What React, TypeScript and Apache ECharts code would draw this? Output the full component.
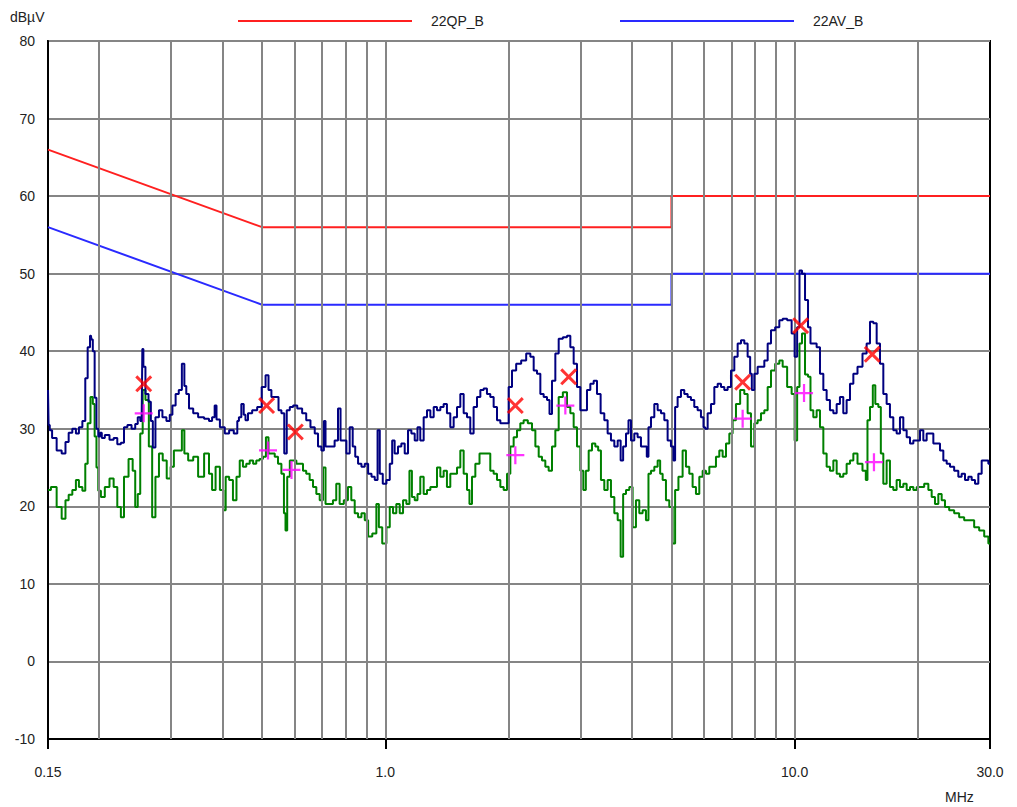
import React, { useEffect, useRef } from "react";
import * as echarts from "echarts";

// Frequencies (MHz) of the vertical grid lines
const gridFreqs = [0.2, 0.3, 0.4, 0.5, 0.6, 0.7, 0.8, 0.9, 1, 2, 3, 4, 5, 6, 7, 8, 9, 10, 20];

// Limit lines [MHz, dBµV]
const qpLimit: [number, number][] = [[0.15, 66], [0.5, 56], [5, 56], [5, 60], [30, 60]];
const avLimit: [number, number][] = [[0.15, 56], [0.5, 46], [5, 46], [5, 50], [30, 50]];

// Peak trace (navy) [MHz, dBµV]
const peakTrace: [number, number][] = [
  [0.150, 35.0], [0.151, 30.5], [0.152, 29.8], [0.155, 28.8], [0.160, 27.2], [0.164, 26.8], [0.167, 28.3], [0.170, 29.5],
  [0.174, 30.0], [0.177, 29.4], [0.180, 30.2], [0.184, 31.0], [0.186, 36.5], [0.189, 40.5], [0.191, 42.0], [0.192, 41.5],
  [0.194, 40.0], [0.196, 34.0], [0.198, 30.0], [0.200, 29.0], [0.202, 29.5], [0.204, 28.8], [0.209, 29.2], [0.215, 28.6],
  [0.219, 28.8], [0.224, 28.0], [0.228, 28.2], [0.232, 30.2], [0.237, 30.5], [0.243, 30.0], [0.247, 30.6], [0.250, 31.5],
  [0.254, 31.0], [0.256, 40.3], [0.257, 38.0], [0.262, 34.5], [0.266, 33.5], [0.269, 31.0], [0.272, 27.6], [0.277, 31.5],
  [0.283, 32.4], [0.288, 31.5], [0.296, 31.0], [0.299, 31.8], [0.305, 33.0], [0.310, 34.5], [0.316, 35.0], [0.321, 38.4],
  [0.325, 35.5], [0.328, 34.5], [0.335, 32.6], [0.344, 32.0], [0.354, 31.5], [0.368, 31.3], [0.374, 31.0], [0.381, 31.5],
  [0.385, 33.0], [0.389, 31.2], [0.400, 30.2], [0.411, 29.4],
  [0.420, 29.8], [0.433, 29.4], [0.437, 31.0], [0.441, 31.5], [0.449, 33.2], [0.453, 31.8], [0.458, 31.1], [0.466, 32.0],
  [0.480, 32.4], [0.493, 32.8], [0.505, 35.4], [0.515, 36.9], [0.522, 35.0], [0.532, 34.1], [0.545, 34.1], [0.552, 32.4],
  [0.563, 32.0], [0.570, 26.8], [0.579, 32.4], [0.590, 32.8], [0.601, 33.0], [0.618, 32.6], [0.635, 32.0], [0.647, 31.1],
  [0.666, 30.2], [0.679, 29.4], [0.691, 27.7], [0.705, 27.2], [0.711, 31.0], [0.718, 27.7], [0.745, 27.7], [0.759, 28.5],
  [0.774, 32.6], [0.781, 28.5], [0.796, 28.5], [0.811, 26.8], [0.826, 30.2], [0.839, 27.7], [0.850, 26.4], [0.866, 25.5],
  [0.883, 25.1], [0.899, 25.5], [0.917, 24.2], [0.934, 23.8], [0.951, 23.4], [0.964, 29.8], [0.975, 24.2], [0.997, 22.9],
  [1.016, 23.4], [1.035, 25.5], [1.044, 28.5], [1.064, 26.8], [1.084, 27.7], [1.105, 28.1], [1.126, 26.8], [1.147, 29.8],
  [1.169, 29.4], [1.191, 28.5],
  [1.206, 30.2], [1.229, 28.5], [1.253, 31.5], [1.276, 32.4], [1.301, 31.5], [1.325, 32.8], [1.350, 32.4], [1.376, 32.8],
  [1.401, 33.2], [1.428, 32.0], [1.455, 30.2], [1.483, 31.5], [1.511, 32.8], [1.539, 34.5], [1.569, 32.0], [1.598, 31.5],
  [1.628, 29.4], [1.659, 32.8], [1.691, 34.1], [1.723, 35.0], [1.755, 35.2], [1.788, 34.5], [1.822, 34.1], [1.857, 32.8],
  [1.892, 31.1], [1.928, 30.7], [1.983, 30.7], [2.020, 35.4], [2.059, 37.5], [2.117, 38.4], [2.178, 38.8], [2.240, 39.7],
  [2.283, 39.3], [2.325, 37.5], [2.370, 37.1], [2.414, 34.5], [2.460, 34.1], [2.507, 33.7], [2.530, 31.9], [2.578, 36.2],
  [2.627, 39.7], [2.677, 41.6], [2.753, 41.8], [2.805, 42.0], [2.858, 40.5], [2.912, 38.4], [2.967, 35.4], [3.023, 32.4],
  [3.080, 32.4], [3.139, 35.0], [3.198, 35.8], [3.259, 36.2], [3.320, 34.5],
  [3.395, 32.0], [3.460, 31.1], [3.525, 29.4], [3.592, 28.5], [3.661, 27.7], [3.730, 28.5], [3.785, 25.9], [3.836, 27.7],
  [3.909, 29.4], [3.945, 31.1], [4.020, 28.5], [4.095, 29.4], [4.173, 28.9], [4.252, 27.7], [4.333, 27.7], [4.373, 26.4],
  [4.415, 30.2], [4.498, 31.5], [4.584, 33.2], [4.670, 32.4], [4.759, 32.0], [4.848, 31.1], [4.940, 28.5], [5.033, 27.7],
  [5.081, 25.9], [5.128, 32.8], [5.226, 34.1], [5.324, 35.0], [5.426, 34.5], [5.528, 34.1], [5.632, 33.7], [5.739, 32.8],
  [5.847, 32.4], [5.959, 31.5], [6.016, 30.2], [6.072, 30.0], [6.187, 32.0], [6.304, 33.2], [6.424, 35.4], [6.545, 35.8],
  [6.669, 35.4], [6.795, 35.0], [6.923, 35.4], [7.055, 37.5], [7.188, 39.3], [7.325, 41.0], [7.463, 41.4], [7.603, 41.0],
  [7.748, 39.3], [7.821, 37.1], [7.894, 35.0], [8.044, 37.1], [8.196, 38.0], [8.352, 38.0], [8.510, 38.8], [8.672, 41.0],
  [8.835, 42.7], [9.087, 43.1], [9.260, 44.0], [9.434, 44.2],
  [9.738, 44.0], [9.924, 42.3], [10.07, 39.3], [10.21, 43.1], [10.34, 50.4], [10.50, 50.0], [10.70, 46.6], [10.86, 43.1],
  [11.00, 41.0], [11.21, 41.0], [11.42, 40.5], [11.64, 37.1], [11.86, 35.0], [12.08, 33.7], [12.31, 32.4], [12.55, 32.0],
  [12.78, 33.2], [13.02, 34.1], [13.27, 32.0], [13.52, 33.7], [13.78, 35.8], [14.04, 37.1], [14.44, 38.0], [14.85, 39.7],
  [15.13, 41.0], [15.42, 43.8], [15.71, 43.6], [16.01, 41.0], [16.31, 38.4], [16.62, 34.5], [16.93, 33.2], [17.25, 31.5],
  [17.58, 29.8], [17.91, 29.4], [18.25, 31.5], [18.60, 29.8], [18.95, 28.9], [19.31, 28.1], [19.68, 28.5], [20.05, 28.5],
  [20.43, 29.8], [20.81, 28.5], [21.21, 29.4], [21.61, 29.4], [22.02, 28.1], [22.43, 28.1], [22.86, 27.2], [23.29, 25.9],
  [23.74, 25.5], [24.18, 25.1], [24.87, 24.6], [25.34, 23.8], [25.82, 24.2], [26.31, 23.4], [26.81, 23.8], [27.32, 23.4],
  [27.83, 22.9], [28.36, 24.2], [28.90, 25.9], [29.45, 25.9], [30.0, 25.5],
];

// Average trace (green) [MHz, dBµV]
const avgTrace: [number, number][] = [
  [0.150, 22.1], [0.155, 22.5], [0.160, 19.9], [0.164, 18.4], [0.167, 20.8], [0.170, 21.5], [0.174, 22.1], [0.177, 23.4],
  [0.180, 22.5], [0.184, 22.0], [0.186, 25.5], [0.189, 30.7], [0.192, 34.1], [0.194, 33.2], [0.196, 29.0], [0.198, 25.0],
  [0.200, 22.0], [0.204, 21.2], [0.209, 22.5], [0.215, 23.6], [0.219, 22.5], [0.224, 19.9], [0.228, 18.6], [0.232, 23.8],
  [0.240, 26.1], [0.243, 24.6], [0.247, 19.9], [0.250, 21.6], [0.254, 29.4], [0.257, 35.0], [0.262, 33.7], [0.267, 27.7],
  [0.272, 18.6], [0.277, 23.8], [0.283, 26.8], [0.289, 25.9], [0.296, 23.6], [0.302, 25.1], [0.307, 27.2], [0.316, 27.2],
  [0.321, 29.8], [0.325, 26.8], [0.335, 25.9], [0.344, 26.4], [0.354, 23.8], [0.368, 26.8], [0.374, 24.2], [0.381, 22.1],
  [0.389, 25.1], [0.400, 22.1], [0.404, 19.5], [0.411, 23.8],
  [0.420, 23.4], [0.429, 20.8], [0.437, 23.8], [0.445, 25.9], [0.453, 25.1], [0.462, 25.5], [0.471, 25.9], [0.480, 25.5],
  [0.488, 25.9], [0.498, 26.1], [0.507, 26.4], [0.515, 28.9], [0.522, 26.8], [0.532, 26.8], [0.542, 26.4], [0.552, 25.5],
  [0.563, 24.2], [0.568, 19.1], [0.573, 16.9], [0.579, 23.8], [0.590, 25.9], [0.601, 25.9], [0.612, 25.5], [0.624, 25.5],
  [0.635, 24.6], [0.647, 24.2], [0.660, 23.4], [0.672, 22.5], [0.685, 21.6], [0.698, 20.8], [0.711, 25.0], [0.718, 20.3],
  [0.738, 20.3], [0.752, 20.8], [0.766, 22.9], [0.781, 20.3], [0.803, 20.8], [0.818, 22.5], [0.834, 20.8], [0.850, 19.1],
  [0.866, 18.6], [0.883, 19.1], [0.899, 18.2], [0.917, 16.1], [0.942, 16.5], [0.960, 20.3], [0.969, 17.3], [0.997, 15.2],
  [1.016, 17.3], [1.035, 19.9], [1.054, 19.1], [1.074, 20.3], [1.095, 19.1], [1.115, 20.8], [1.137, 20.3], [1.154, 24.6],
  [1.169, 21.2], [1.191, 20.8],
  [1.206, 21.6], [1.229, 23.8], [1.253, 21.6], [1.276, 22.1], [1.301, 22.5], [1.325, 22.5], [1.350, 25.0], [1.376, 23.8],
  [1.401, 24.6], [1.428, 22.5], [1.455, 24.2], [1.483, 24.2], [1.511, 25.0], [1.539, 27.2], [1.569, 24.2], [1.598, 22.1],
  [1.613, 20.3], [1.644, 23.8], [1.675, 25.5], [1.723, 26.8], [1.788, 26.8], [1.822, 24.6], [1.857, 24.2], [1.892, 23.4],
  [1.928, 22.5], [1.964, 22.1], [2.002, 24.2], [2.039, 27.7], [2.078, 28.9], [2.117, 29.8], [2.157, 30.7], [2.198, 31.1],
  [2.261, 30.7], [2.304, 29.8], [2.348, 27.7], [2.392, 26.4], [2.437, 25.9], [2.483, 25.1], [2.530, 24.6], [2.578, 27.7],
  [2.627, 29.8], [2.677, 34.1], [2.753, 34.7], [2.805, 32.8], [2.858, 32.0], [2.912, 30.2], [2.967, 27.7], [3.023, 24.6],
  [3.069, 22.1], [3.110, 24.6], [3.169, 27.2], [3.228, 28.1], [3.290, 27.7],
  [3.332, 27.2], [3.395, 23.4], [3.460, 22.1], [3.525, 23.4], [3.592, 21.2], [3.661, 19.1], [3.730, 18.2], [3.785, 13.5],
  [3.836, 21.6], [3.909, 22.1], [3.982, 22.5], [4.057, 17.3], [4.134, 20.8], [4.212, 19.1], [4.292, 19.5], [4.373, 18.2],
  [4.415, 24.2], [4.498, 24.6], [4.584, 25.1], [4.670, 25.9], [4.715, 24.2], [4.803, 23.4], [4.894, 20.8], [4.986, 19.9],
  [5.081, 15.2], [5.128, 22.1], [5.274, 23.8], [5.375, 27.2], [5.476, 25.1], [5.580, 24.2], [5.685, 22.5], [5.794, 21.6],
  [5.903, 23.8], [6.016, 24.6], [6.129, 24.2], [6.246, 25.1], [6.363, 25.1], [6.483, 26.4], [6.607, 27.2], [6.731, 26.4],
  [6.860, 28.1], [6.989, 29.4], [7.120, 31.1], [7.256, 33.2], [7.463, 35.0], [7.603, 34.5], [7.748, 32.0], [7.894, 27.7],
  [8.044, 30.7], [8.196, 31.1], [8.352, 32.0], [8.510, 32.4], [8.672, 35.4], [8.835, 37.5], [9.087, 38.4], [9.260, 38.8],
  [9.434, 38.0],
  [9.738, 35.4], [9.924, 34.5], [10.07, 28.5], [10.21, 35.4], [10.34, 41.0], [10.50, 42.3], [10.70, 37.0], [10.86, 36.7],
  [11.00, 32.4], [11.21, 31.5], [11.42, 32.4], [11.64, 30.2], [11.86, 26.8], [12.08, 25.1], [12.31, 24.6], [12.55, 25.9],
  [12.78, 24.2], [13.02, 23.8], [13.27, 24.2], [13.52, 25.5], [13.78, 25.9], [14.04, 26.8], [14.44, 25.5], [14.85, 24.6],
  [14.99, 23.4], [15.13, 31.1], [15.42, 32.8], [15.62, 35.6], [15.86, 33.2], [16.16, 32.8], [16.31, 26.8], [16.62, 22.9],
  [16.93, 25.9], [17.25, 22.5], [17.58, 22.1], [17.91, 23.4], [18.25, 22.5], [18.60, 22.9], [18.95, 22.1], [19.31, 22.5],
  [19.68, 22.1], [20.05, 22.5], [20.43, 22.5], [21.01, 22.9], [21.41, 22.1], [21.81, 21.2], [22.22, 20.3], [22.65, 21.6],
  [23.07, 20.8], [23.51, 19.9], [24.18, 19.5], [24.87, 19.1], [25.58, 18.6], [26.31, 18.2], [27.06, 18.2], [27.83, 17.3],
  [28.63, 16.9], [29.45, 16.1], [30.0, 15.2],
];

// Final measurement markers [MHz, dBµV]
const qpMarks: [number, number][] = [
  [0.257, 35.8], [0.513, 33.0], [0.603, 29.6], [2.078, 33.0], [2.805, 36.7], [7.463, 36.0], [10.34, 43.3], [15.47, 39.6],
];
const avMarks: [number, number][] = [
  [0.257, 32.0], [0.517, 27.2], [0.590, 24.7], [2.078, 26.6], [2.753, 33.0], [7.463, 31.3], [10.54, 34.6], [15.62, 25.7],
];

const FONT = "'Liberation Sans', Arial, sans-serif";
const X_PATH = "path://M0,2 L2,0 L8,6 L14,0 L16,2 L10,8 L16,14 L14,16 L8,10 L2,16 L0,14 L6,8 Z";
const PLUS_PATH = "path://M7,0 H9 V7 H16 V9 H9 V16 H7 V9 H0 V7 H7 Z";
const GRID_COLOR = "#858585";

function fmtFreq(v: number): string {
  if (v < 1) return String(Math.round(v * 100) / 100);
  return v.toFixed(1);
}

export default function App() {
  const ref = useRef<HTMLDivElement>(null);

  useEffect(() => {
    document.body.style.margin = "0";
    const chart = echarts.init(ref.current!, null, { renderer: "svg" });
    const legendText = { color: "#222", fontSize: 14, fontFamily: FONT, padding: [0, 0, 0, 14] };
    chart.setOption({
      animation: false,
      backgroundColor: "#ffffff",
      grid: {
        left: 48,
        right: 27,
        top: 41,
        bottom: 68,
        show: true,
        borderColor: "#000",
        borderWidth: 2,
        backgroundColor: "transparent",
      },
      legend: [
        {
          data: ["22QP_B"],
          left: 233,
          top: 9,
          icon: "rect",
          itemWidth: 174,
          itemHeight: 2,
          textStyle: legendText,
        },
        {
          data: ["22AV_B"],
          left: 615,
          top: 9,
          icon: "rect",
          itemWidth: 174,
          itemHeight: 2,
          textStyle: legendText,
        },
      ],
      graphic: [
        {
          type: "text",
          left: 10,
          top: 10,
          style: { text: "dBµV", fill: "#222", fontSize: 14, fontFamily: FONT },
        },
        {
          type: "text",
          left: 945,
          top: 790,
          style: { text: "MHz", fill: "#222", fontSize: 14, fontFamily: FONT },
        },
      ],
      xAxis: {
        type: "log",
        logBase: 10,
        min: 0.15,
        max: 30,
        axisLine: { show: true, onZero: false, lineStyle: { color: "#000", width: 2 } },
        axisTick: { show: true, length: 10, lineStyle: { color: "#000", width: 2 } },
        minorTick: { show: false },
        splitLine: { show: false },
        axisLabel: {
          margin: 26,
          color: "#222",
          fontSize: 14,
          fontFamily: FONT,
          showMinLabel: true,
          showMaxLabel: true,
          formatter: (v: number) => fmtFreq(v),
        },
      },
      yAxis: {
        type: "value",
        min: -10,
        max: 80,
        interval: 10,
        axisLine: { show: true, onZero: false, lineStyle: { color: "#000", width: 2 } },
        axisTick: { show: false },
        axisLabel: { margin: 13, color: "#222", fontSize: 14, fontFamily: FONT },
        splitLine: { show: true, lineStyle: { color: GRID_COLOR, width: 2 } },
      },
      series: [
        {
          name: "grid",
          type: "line",
          data: [],
          z: 1,
          silent: true,
          markLine: {
            silent: true,
            symbol: "none",
            label: { show: false },
            lineStyle: { color: GRID_COLOR, width: 2, type: "solid" },
            data: gridFreqs.map((f) => ({ xAxis: f })),
          },
        },
        {
          name: "22QP_B",
          type: "line",
          data: qpLimit,
          showSymbol: false,
          z: 3,
          itemStyle: { color: "#ff2020" },
          lineStyle: { color: "#ff2020", width: 2 },
        },
        {
          name: "22AV_B",
          type: "line",
          data: avLimit,
          showSymbol: false,
          z: 3,
          itemStyle: { color: "#2a2aff" },
          lineStyle: { color: "#2a2aff", width: 2 },
        },
        {
          name: "Average",
          type: "line",
          data: avgTrace,
          showSymbol: false,
          step: "middle",
          z: 4,
          lineStyle: { color: "#008000", width: 2 },
          itemStyle: { color: "#008000" },
        },
        {
          name: "Peak",
          type: "line",
          data: peakTrace,
          showSymbol: false,
          step: "middle",
          z: 5,
          lineStyle: { color: "#000080", width: 2 },
          itemStyle: { color: "#000080" },
        },
        {
          name: "AV final",
          type: "scatter",
          data: avMarks,
          symbol: PLUS_PATH,
          symbolSize: 18,
          z: 6,
          itemStyle: { color: "#ff00ff" },
        },
        {
          name: "QP final",
          type: "scatter",
          data: qpMarks,
          symbol: X_PATH,
          symbolSize: 17,
          z: 7,
          itemStyle: { color: "#ff0000" },
        },
      ],
    });
    return () => chart.dispose();
  }, []);

  return <div ref={ref} style={{ width: 1017, height: 807 }} />;
}
